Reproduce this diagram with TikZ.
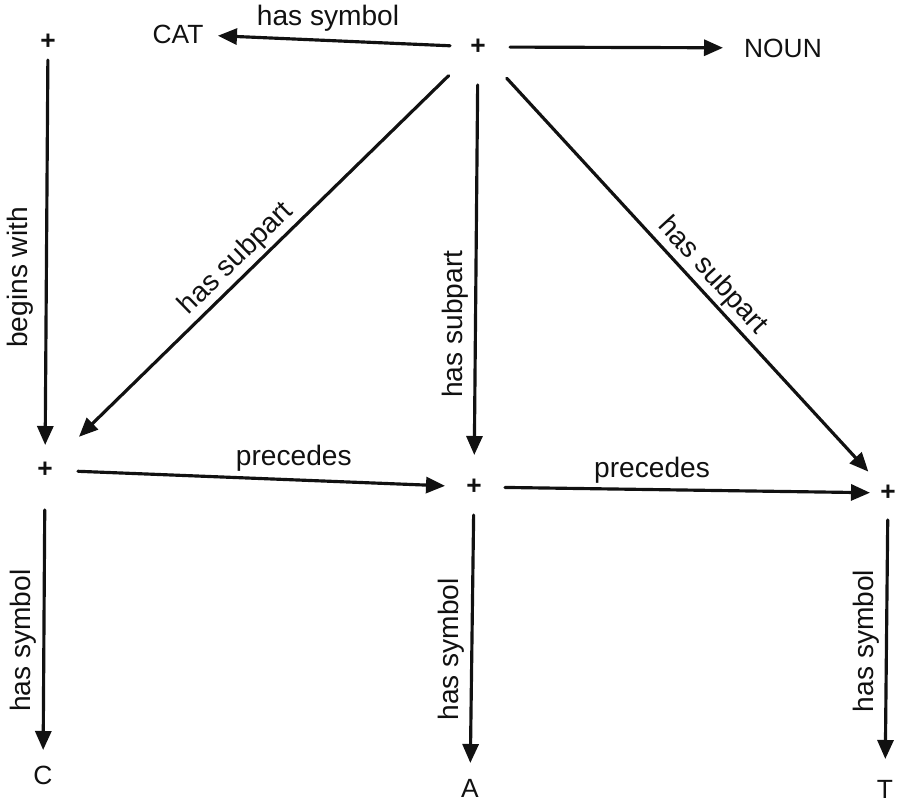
\documentclass[tikz,border=0pt]{standalone}
\usepackage{fontspec}
\setmainfont{Liberation Sans}
\usepackage{tikz}
\usetikzlibrary{arrows.meta,positioning}
\definecolor{ink}{HTML}{111111}
\tikzset{
  >={Triangle[length=3.8mm,width=3.2mm]},
  pt/.style={font=\fontsize{15}{16}\selectfont\bfseries, inner sep=0pt, text=ink},
  sym/.style={font=\fontsize{15}{17}\selectfont, inner sep=0pt, text=ink},
  rel/.style={->, draw=ink, line width=1.8pt},
  lbl/.style={font=\fontsize{16}{18}\selectfont, inner sep=1pt, text=ink},
}

\begin{document}
\begin{tikzpicture}[line cap=round, line join=round]
\useasboundingbox (0,0) rectangle (17.98,16.12);

% ===================== nodes =====================
\node[pt]  (tl)   at (0.96,15.28) {+};
\node[sym] (cat)  at (3.56,15.44) {CAT};
\node[pt]  (top)  at (9.56,15.18) {+};
\node[sym] (noun) at (15.66,15.16) {NOUN};
\node[pt]  (lm)   at (0.90,6.72) {+};
\node[pt]  (mm)   at (9.48,6.38) {+};
\node[pt]  (rm)   at (17.76,6.26) {+};
\node[sym] (c)    at (0.86,0.62) {C};
\node[sym] (a)    at (9.40,0.36) {A};
\node[sym] (t)    at (17.70,0.34) {T};

% ===================== top row =====================
\draw[rel, shorten <=0.56cm, shorten >=0.80cm] (top.center) -- (cat.center)
  node[lbl, midway, above=0.12cm] (l1) {has symbol};
\draw[rel, shorten <=0.64cm, shorten >=1.20cm] (top.center) -- (noun.center);
\draw[rel, shorten <=0.36cm, shorten >=0.50cm] (tl.center) -- (lm.center)
  node[lbl, pos=0.55, rotate=90, anchor=south, yshift=0.20cm] (l2) {begins with};

% ===================== subparts =====================
\draw[rel, shorten <=0.82cm, shorten >=0.95cm] (top.center) -- (lm.center)
  node[lbl, pos=0.53, sloped, above=0.02cm] (l3) {has subpart};
\draw[rel, shorten <=0.76cm, shorten >=0.64cm] (top.center) -- (mm.center)
  node[lbl, pos=0.63, rotate=90, anchor=south, yshift=0.08cm] (l4) {has subpart};
\draw[rel, shorten <=0.85cm, shorten >=0.58cm] (top.center) -- (rm.center)
  node[lbl, pos=0.54, sloped, above=0.02cm] (l5) {has subpart};

% ===================== precedes =====================
\draw[rel, shorten <=0.66cm, shorten >=0.58cm] (lm.center) -- (mm.center)
  node[lbl, pos=0.58, above=0.10cm] (l6) {precedes};
\draw[rel, shorten <=0.62cm, shorten >=0.36cm] (mm.center) -- (rm.center)
  node[lbl, pos=0.43, above=0.06cm] (l7) {precedes};

% ===================== symbols =====================
\draw[rel, shorten <=0.80cm, shorten >=0.50cm] (lm.center) -- (c.center)
  node[lbl, pos=0.56, rotate=90, anchor=south, yshift=0.08cm] (l8) {has symbol};
\draw[rel, shorten <=0.56cm, shorten >=0.50cm] (mm.center) -- (a.center)
  node[lbl, pos=0.54, rotate=90, anchor=south, yshift=0.08cm] (l9) {has symbol};
\draw[rel, shorten <=0.54cm, shorten >=0.60cm] (rm.center) -- (t.center)
  node[lbl, pos=0.50, rotate=90, anchor=south, yshift=0.08cm] (l10) {has symbol};

\end{tikzpicture}
\end{document}
